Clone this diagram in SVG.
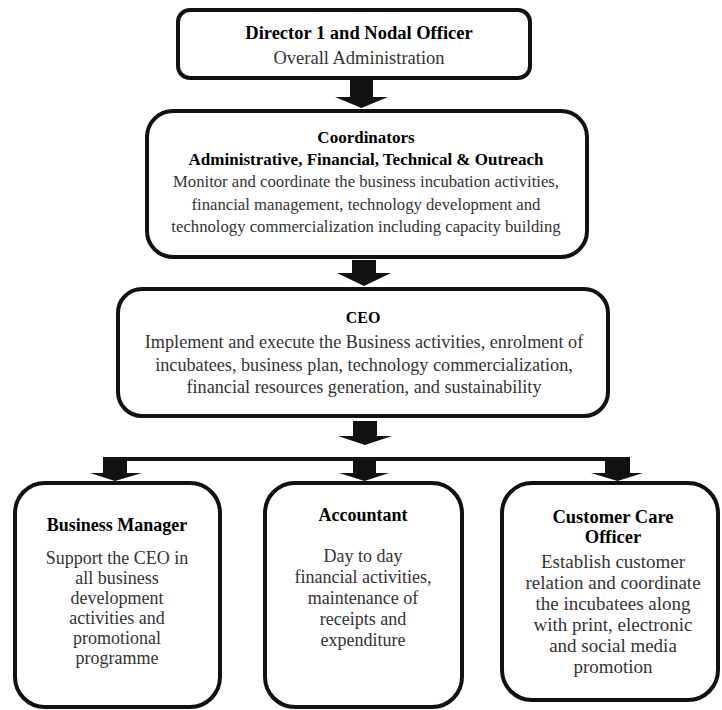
<svg xmlns="http://www.w3.org/2000/svg" width="722" height="710" viewBox="0 0 722 710">
<style>
.box{fill:#fff;stroke:#111;stroke-width:4}
.t{font-family:"Liberation Serif","Times New Roman",serif;font-size:17px;fill:#000;font-weight:bold;text-anchor:middle}
.b{font-family:"Liberation Serif","Times New Roman",serif;font-size:16.7px;fill:#333;text-anchor:middle}
.arr{fill:#111}
</style>
<rect width="722" height="710" fill="#fff"/>
<g id="connectors">
  <path class="arr" d="M350,78 H373 V97 H388 L361.5,108 L335,97 H350 Z"/>
  <path class="arr" d="M352,260 H376 V273 H391 L364,286 L337,273 H352 Z"/>
  <path class="arr" d="M353,421 H377 V436 H392 L365,445 L338,436 H353 Z"/>
  <rect class="arr" x="103" y="457" width="527" height="4"/>
  <path class="arr" d="M103,457 H127 V473 H142 L115,481 L90,473 H103 Z"/>
  <path class="arr" d="M353,457 H376 V473 H389 L364.5,481 L339,473 H353 Z"/>
  <path class="arr" d="M605,457 H630 V473 H643 L617.5,481 L591,473 H605 Z"/>
</g>
<g id="director">
  <rect class="box" x="178" y="10" width="352" height="68" rx="12"/>
  <text class="t" x="359" y="39" style="font-size:18.5px">Director 1 and Nodal Officer</text>
  <text class="b" x="359" y="64" style="font-size:18.5px">Overall Administration</text>
</g>
<g id="coordinators">
  <rect class="box" x="147" y="111" width="440" height="146" rx="26"/>
  <text class="t" x="366" y="143">Coordinators</text>
  <text class="t" x="366" y="165">Administrative, Financial, Technical &amp; Outreach</text>
  <text class="b" x="366" y="187">Monitor and coordinate the business incubation activities,</text>
  <text class="b" x="366" y="210">financial management, technology development and</text>
  <text class="b" x="366" y="232">technology commercialization including capacity building</text>
</g>
<g id="ceo">
  <rect class="box" x="118" y="289" width="490" height="127" rx="24"/>
  <text class="t" x="363" y="323" style="font-size:16px">CEO</text>
  <text class="b" x="364" y="348" style="font-size:18.2px">Implement and execute the Business activities, enrolment of</text>
  <text class="b" x="364" y="371" style="font-size:18.2px">incubatees, business plan, technology commercialization,</text>
  <text class="b" x="364" y="393" style="font-size:18.2px">financial resources generation, and sustainability</text>
</g>
<g id="business-manager">
  <rect class="box" x="15" y="483" width="205" height="224" rx="30"/>
  <text class="t" x="117" y="531" style="font-size:18px">Business Manager</text>
  <text class="b" x="117" y="564" style="font-size:18px">Support the CEO in</text>
  <text class="b" x="117" y="584" style="font-size:18px">all business</text>
  <text class="b" x="117" y="604" style="font-size:18px">development</text>
  <text class="b" x="117" y="624" style="font-size:18px">activities and</text>
  <text class="b" x="117" y="644" style="font-size:18px">promotional</text>
  <text class="b" x="117" y="664" style="font-size:18px">programme</text>
</g>
<g id="accountant">
  <rect class="box" x="265" y="483" width="197" height="224" rx="30"/>
  <text class="t" x="363" y="521" style="font-size:18px">Accountant</text>
  <text class="b" x="363" y="562" style="font-size:18px">Day to day</text>
  <text class="b" x="363" y="583" style="font-size:18px">financial activities,</text>
  <text class="b" x="363" y="604" style="font-size:18px">maintenance of</text>
  <text class="b" x="363" y="625" style="font-size:18px">receipts and</text>
  <text class="b" x="363" y="646" style="font-size:18px">expenditure</text>
</g>
<g id="customer-care">
  <rect class="box" x="502" y="483" width="216" height="217" rx="30"/>
  <text class="t" x="613" y="523" style="font-size:18.5px">Customer Care</text>
  <text class="t" x="613" y="543" style="font-size:18.5px">Officer</text>
  <text class="b" x="613" y="568" style="font-size:19px">Establish customer</text>
  <text class="b" x="613" y="589" style="font-size:19px">relation and coordinate</text>
  <text class="b" x="613" y="610" style="font-size:19px">the incubatees along</text>
  <text class="b" x="613" y="631" style="font-size:19px">with print, electronic</text>
  <text class="b" x="613" y="652" style="font-size:19px">and social media</text>
  <text class="b" x="613" y="673" style="font-size:19px">promotion</text>
</g>
</svg>
